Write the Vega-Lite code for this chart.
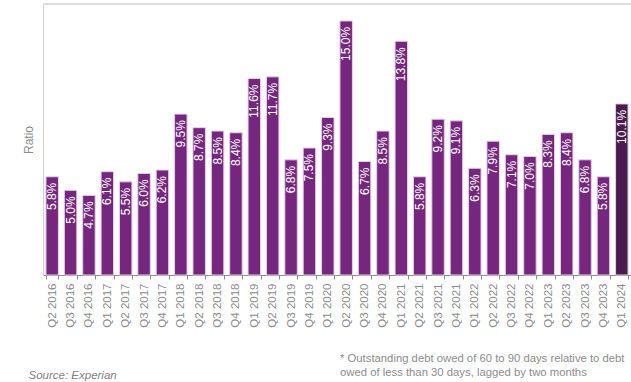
{
  "$schema": "https://vega.github.io/schema/vega-lite/v6.json",
  "autosize": "none",
  "width": 588,
  "height": 271,
  "padding": {"left": 43, "top": 4, "right": 0, "bottom": 107},
  "background": "white",
  "config": {
    "font": "Liberation Sans",
    "view": {"stroke": null}
  },
  "title": {
    "text": ["* Outstanding debt owed of 60 to 90 days relative to debt", "owed of less than 30 days, lagged by two months"],
    "orient": "bottom",
    "anchor": "start",
    "frame": "group",
    "dx": 297,
    "offset": -28,
    "fontSize": 11.3,
    "fontWeight": "normal",
    "color": "#8c8c8c",
    "lineHeight": 14,
    "align": "left"
  },
  "data": {
    "values": [
      {"quarter": "Q2 2016", "ratio": 0.058, "latest": "no"},
      {"quarter": "Q3 2016", "ratio": 0.050, "latest": "no"},
      {"quarter": "Q4 2016", "ratio": 0.047, "latest": "no"},
      {"quarter": "Q1 2017", "ratio": 0.061, "latest": "no"},
      {"quarter": "Q2 2017", "ratio": 0.055, "latest": "no"},
      {"quarter": "Q3 2017", "ratio": 0.060, "latest": "no"},
      {"quarter": "Q4 2017", "ratio": 0.062, "latest": "no"},
      {"quarter": "Q1 2018", "ratio": 0.095, "latest": "no"},
      {"quarter": "Q2 2018", "ratio": 0.087, "latest": "no"},
      {"quarter": "Q3 2018", "ratio": 0.085, "latest": "no"},
      {"quarter": "Q4 2018", "ratio": 0.084, "latest": "no"},
      {"quarter": "Q1 2019", "ratio": 0.116, "latest": "no"},
      {"quarter": "Q2 2019", "ratio": 0.117, "latest": "no"},
      {"quarter": "Q3 2019", "ratio": 0.068, "latest": "no"},
      {"quarter": "Q4 2019", "ratio": 0.075, "latest": "no"},
      {"quarter": "Q1 2020", "ratio": 0.093, "latest": "no"},
      {"quarter": "Q2 2020", "ratio": 0.150, "latest": "no"},
      {"quarter": "Q3 2020", "ratio": 0.067, "latest": "no"},
      {"quarter": "Q4 2020", "ratio": 0.085, "latest": "no"},
      {"quarter": "Q1 2021", "ratio": 0.138, "latest": "no"},
      {"quarter": "Q2 2021", "ratio": 0.058, "latest": "no"},
      {"quarter": "Q3 2021", "ratio": 0.092, "latest": "no"},
      {"quarter": "Q4 2021", "ratio": 0.091, "latest": "no"},
      {"quarter": "Q1 2022", "ratio": 0.063, "latest": "no"},
      {"quarter": "Q2 2022", "ratio": 0.079, "latest": "no"},
      {"quarter": "Q3 2022", "ratio": 0.071, "latest": "no"},
      {"quarter": "Q4 2022", "ratio": 0.070, "latest": "no"},
      {"quarter": "Q1 2023", "ratio": 0.083, "latest": "no"},
      {"quarter": "Q2 2023", "ratio": 0.084, "latest": "no"},
      {"quarter": "Q3 2023", "ratio": 0.068, "latest": "no"},
      {"quarter": "Q4 2023", "ratio": 0.058, "latest": "no"},
      {"quarter": "Q1 2024", "ratio": 0.101, "latest": "yes"}
    ]
  },
  "encoding": {
    "x": {
      "field": "quarter",
      "type": "nominal",
      "sort": null,
      "scale": {"paddingInner": 0.32, "paddingOuter": 0.16},
      "axis": {
        "title": "Source: Experian",
        "titleAnchor": "start",
        "titleAlign": "left",
        "titleX": -15,
        "titleY": 94,
        "titleFontStyle": "italic",
        "titleFontWeight": "normal",
        "titleFontSize": 11.5,
        "titleColor": "#7f7f7f",
        "labelAngle": -90,
        "labelFontSize": 11.5,
        "labelColor": "#8c8c8c",
        "labelPadding": 4,
        "domainColor": "#8c8c8c",
        "tickColor": "#8c8c8c",
        "tickSize": 4,
        "tickBand": "extent",
        "ticks": true
      }
    },
    "y": {
      "field": "ratio",
      "type": "quantitative",
      "scale": {"domain": [0, 0.16], "nice": false},
      "axis": {
        "title": "Ratio",
        "titleFontSize": 12,
        "titleFontWeight": "normal",
        "titleColor": "#8c8c8c",
        "titlePadding": 8,
        "labels": false,
        "ticks": false,
        "grid": false,
        "domainColor": "#d0d0d0"
      }
    }
  },
  "layer": [
    {
      "mark": {"type": "bar", "stroke": "#e3d3e6", "strokeWidth": 1},
      "encoding": {
        "color": {
          "field": "latest",
          "type": "nominal",
          "scale": {"domain": ["no", "yes"], "range": ["#76267f", "#4b1b4f"]},
          "legend": null
        }
      }
    },
    {
      "mark": {"type": "text", "angle": -90, "align": "right", "baseline": "middle", "dx": -6, "color": "white", "fontSize": 12},
      "encoding": {
        "text": {"field": "ratio", "type": "quantitative", "format": ".1%"}
      }
    },
    {
      "mark": {"type": "rule", "color": "#dcdcdc", "strokeWidth": 1},
      "encoding": {"y": {"datum": 0.16}, "x": {"value": 0}, "x2": {"value": 588}}
    }
  ]
}
